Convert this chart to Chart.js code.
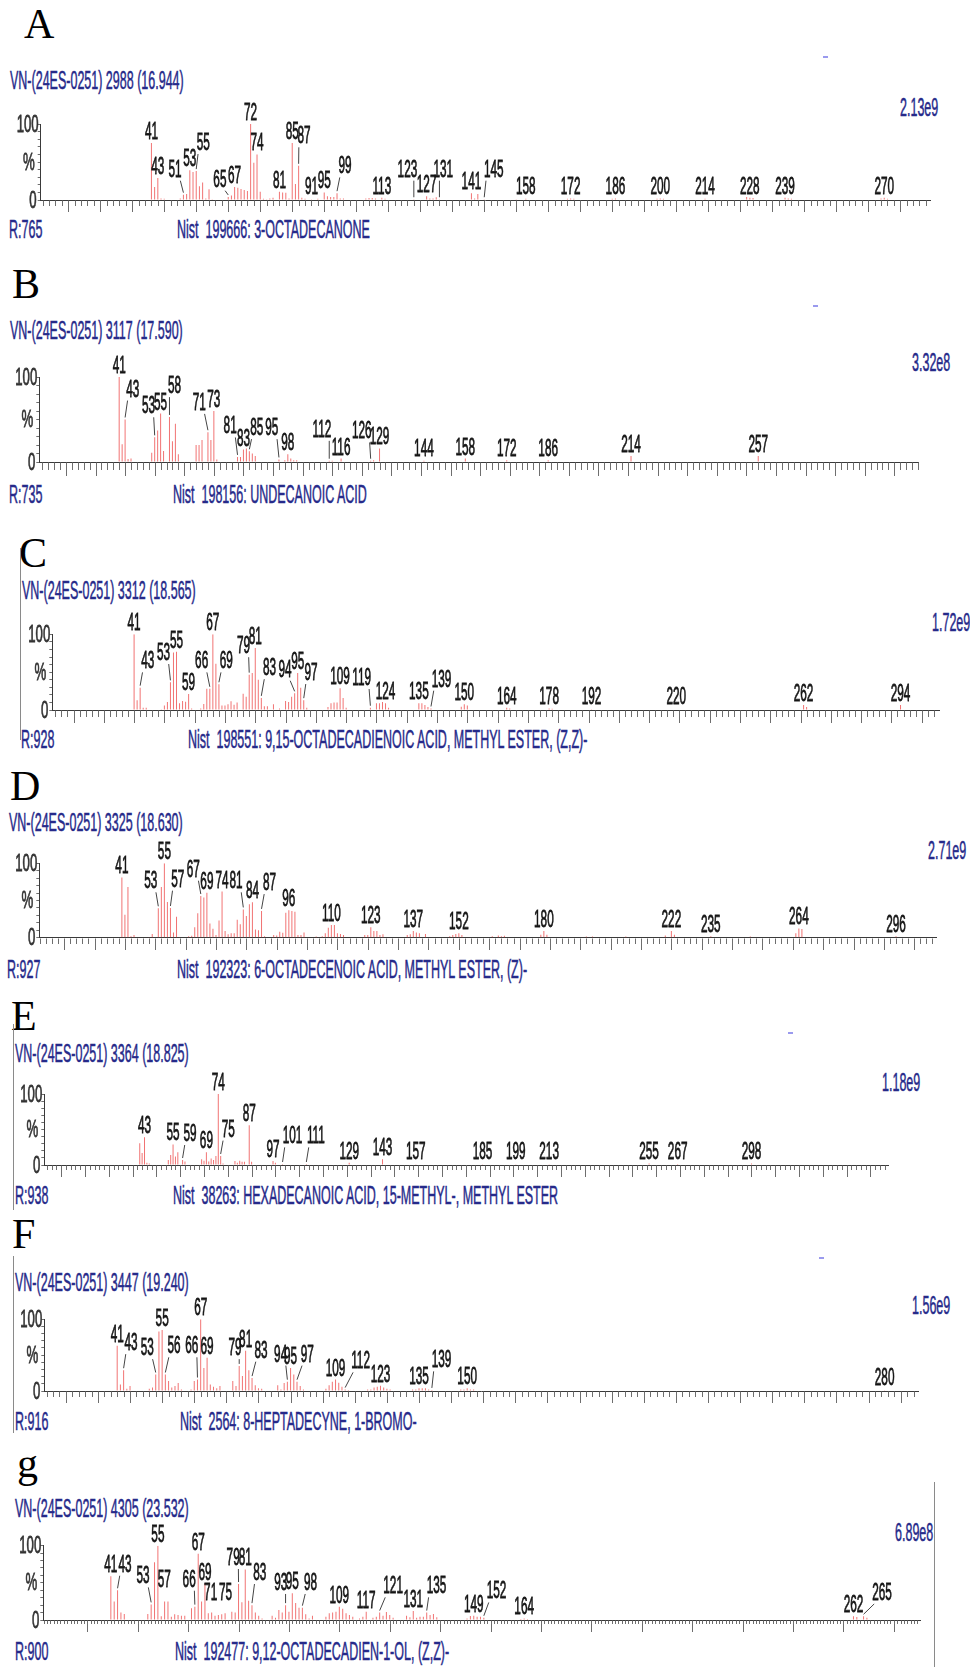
<!DOCTYPE html>
<html><head><meta charset="utf-8">
<script src="https://cdn.jsdelivr.net/npm/chart.js@4.4.1/dist/chart.umd.min.js"></script>
<style>
html,body{margin:0;padding:0;background:#fff;}
body{width:970px;height:1667px;position:relative;overflow:hidden;}
canvas{position:absolute;left:0;}
.t{position:absolute;font-family:"Liberation Sans",Arial,sans-serif;font-size:25px;line-height:25px;color:#262a8a;-webkit-text-stroke:0.5px #262a8a;white-space:pre;transform-origin:0 50%;transform:scaleX(0.5);}
.L{position:absolute;font-family:"Liberation Serif","Times New Roman",serif;font-size:42px;line-height:42px;color:#000;}
.dash{position:absolute;width:5px;height:2px;background:#9a9aee;}
.frame{position:absolute;width:1px;background:#8a8a8a;}
</style></head><body>

<div class="L" style="left:24px;top:3px">A</div>
<div class="t" style="left:10px;top:68px">VN-(24ES-0251) 2988 (16.944)</div>
<div class="t" style="left:900px;top:95px">2.13e9</div>
<div class="dash" style="left:823px;top:56px"></div>
<div class="t" style="left:9px;top:217px">R:765</div>
<div class="t" style="left:177px;top:217px">Nist  199666: 3-OCTADECANONE</div>

<div class="L" style="left:12px;top:263px">B</div>
<div class="t" style="left:10px;top:318px">VN-(24ES-0251) 3117 (17.590)</div>
<div class="t" style="left:912px;top:350px">3.32e8</div>
<div class="dash" style="left:813px;top:305px"></div>
<div class="t" style="left:9px;top:482px">R:735</div>
<div class="t" style="left:173px;top:482px">Nist  198156: UNDECANOIC ACID</div>

<div class="L" style="left:19px;top:532px">C</div>
<div class="frame" style="left:20px;top:548px;height:192px"></div>
<div class="t" style="left:22px;top:578px">VN-(24ES-0251) 3312 (18.565)</div>
<div class="t" style="left:932px;top:610px">1.72e9</div>
<div class="t" style="left:21px;top:727px">R:928</div>
<div class="t" style="left:188px;top:727px">Nist  198551: 9,15-OCTADECADIENOIC ACID, METHYL ESTER, (Z,Z)-</div>

<div class="L" style="left:10px;top:765px">D</div>
<div class="t" style="left:9px;top:810px">VN-(24ES-0251) 3325 (18.630)</div>
<div class="t" style="left:928px;top:838px">2.71e9</div>
<div class="t" style="left:7px;top:957px">R:927</div>
<div class="t" style="left:177px;top:957px">Nist  192323: 6-OCTADECENOIC ACID, METHYL ESTER, (Z)-</div>

<div class="L" style="left:11px;top:995px">E</div>
<div class="frame" style="left:13px;top:1024px;height:186px"></div>
<div class="t" style="left:15px;top:1041px">VN-(24ES-0251) 3364 (18.825)</div>
<div class="t" style="left:882px;top:1070px">1.18e9</div>
<div class="dash" style="left:788px;top:1032px"></div>
<div class="t" style="left:15px;top:1183px">R:938</div>
<div class="t" style="left:173px;top:1183px">Nist  38263: HEXADECANOIC ACID, 15-METHYL-, METHYL ESTER</div>

<div class="L" style="left:12px;top:1213px">F</div>
<div class="frame" style="left:13px;top:1256px;height:177px"></div>
<div class="t" style="left:15px;top:1270px">VN-(24ES-0251) 3447 (19.240)</div>
<div class="t" style="left:912px;top:1293px">1.56e9</div>
<div class="dash" style="left:819px;top:1257px"></div>
<div class="t" style="left:15px;top:1409px">R:916</div>
<div class="t" style="left:180px;top:1409px">Nist  2564: 8-HEPTADECYNE, 1-BROMO-</div>

<div class="L" style="left:17px;top:1442px">g</div>
<div class="frame" style="left:934px;top:1482px;height:185px"></div>
<div class="t" style="left:15px;top:1496px">VN-(24ES-0251) 4305 (23.532)</div>
<div class="t" style="left:895px;top:1520px">6.89e8</div>
<div class="t" style="left:15px;top:1639px">R:900</div>
<div class="t" style="left:175px;top:1639px">Nist  192477: 9,12-OCTADECADIEN-1-OL, (Z,Z)-</div>

<canvas id="cA"></canvas><canvas id="cB"></canvas><canvas id="cC"></canvas><canvas id="cD"></canvas>
<canvas id="cE"></canvas><canvas id="cF"></canvas><canvas id="cG"></canvas>

<script>
// ---------- DATA: [m/z, relative intensity %] ----------
const peaksA = [[41,75],[42,17],[43,29],[44,2],[45,1.5],[50,2],[51,7],[52,8],[53,39],[54,37],[55,38],[56,18],[57,23],[58,2],[59,14],[60,1],[65,4],[66,6],[67,17],[68,16],[69,14.5],[70,13],[71,12],[72,100],[73,49],[74,60],[75,11],[76,1.5],[77,1],[78,2],[79,3],[81,11],[82,10],[83,9.5],[84,2],[85,75],[86,21],[87,45],[88,3],[89,1.5],[91,1],[93,1.5],[95,10],[96,5],[97,4],[98,4],[99,9],[100,2],[101,2],[108,2],[109,2.5],[110,2.5],[111,2],[113,3],[114,1.5],[123,1],[127,5],[128,2],[129,2],[130,3.5],[131,1],[141,9],[142,2],[143,8],[145,1],[155,1],[158,1.5],[171,1.5],[172,2],[173,1.5],[185,1.5],[186,2],[199,1.5],[200,2],[201,1.5],[214,1.5],[227,4],[228,3],[229,2.5],[239,3],[240,2],[241,1.5],[269,2],[270,3],[271,1.5]];
const labelsA = [41,43,53,67,72,74,81,85,91,95,113,127,141,158,172,186,200,214,228,239,270];
const leadersA = [[51,48.4,30.7],[55,57.2,65.8],[65,62.4,17.5],[87,88.7,74.6],[99,101.5,35],[123,121,30.7],[131,132.2,30.7],[145,148,30.7]];

const peaksB = [[41,100],[42,21],[43,50],[44,3.5],[45,4],[52,11],[53,29],[54,37],[55,57],[56,13],[58,53],[59,24.5],[60,45],[61,9],[67,20],[68,20],[69,26],[71,35],[72,26],[73,60],[74,3],[81,6],[82,6],[83,14.6],[84,16],[85,12.6],[86,10],[87,7],[95,3],[97,2],[98,9],[99,4],[100,2],[101,2],[112,1.5],[113,1.5],[116,4],[126,1.5],[127,2],[129,16],[144,1.5],[158,4],[172,2],[186,2],[214,7],[257,7]];
const labelsB = [41,55,73,83,98,116,129,144,158,172,186,214,257];
const leadersB = [[43,45.6,77],[53,50.9,57.3],[58,59.7,81],[71,68.1,61.3],[81,78.5,33.6],[85,87.5,31.6],[95,92.6,31.6],[112,109.5,29.6],[126,123,27.7]];

const peaksC = [[41,100],[42,13],[43,29.5],[44,3],[45,3],[50,1],[51,6],[52,10.5],[53,36.5],[54,76],[55,77],[56,9],[57,12],[58,11],[59,21],[60,2],[63,2],[64,8],[65,28],[66,28],[67,100],[68,61],[69,34],[70,6],[71,6],[72,7.5],[73,11.5],[74,7],[75,10],[77,21.5],[78,17.6],[79,46.7],[80,49],[81,82],[82,40],[83,16],[84,5],[85,5],[87,7.5],[89,2],[91,12],[92,10.5],[93,17.6],[94,22],[95,49],[96,29.5],[97,13],[98,3],[105,4],[106,9],[107,10],[108,10],[109,28.6],[110,16],[111,3],[119,3],[121,9],[122,9],[123,10.5],[124,9],[125,3],[135,9],[136,9],[137,6.6],[138,4],[139,2],[149,4.4],[150,7.5],[151,6],[164,3],[165,2],[178,2],[179,1.5],[192,1],[220,0.8],[262,6.6],[263,4],[294,6.6]];
const labelsC = [41,55,59,67,81,95,109,124,135,150,164,178,192,220,262,294];
const leadersC = [[43,45.5,55],[53,50.7,66],[66,63.3,55],[69,71.4,55],[79,77.1,75],[83,85.7,46],[94,90.8,44],[97,99.4,39.6],[119,116.1,33],[139,142.5,30.8]];

const peaksD = [[41,81],[42,31],[43,68],[44,2],[45,3.6],[50,1],[51,5],[53,39.5],[54,68],[55,100],[56,48],[57,40],[58,7],[59,28],[60,1],[63,2],[64,2.7],[65,14],[66,33],[67,56],[68,54],[69,60.5],[70,19],[71,12],[72,3.6],[73,23],[74,62],[75,9],[76,4.5],[77,6],[78,6],[79,24],[80,18],[81,38],[82,29],[83,45],[84,47.5],[85,11],[86,10],[87,36],[88,2],[91,3.6],[92,3],[93,8],[94,6.7],[95,33.6],[96,37],[97,36],[98,35],[99,3.6],[100,3.6],[101,7],[105,1.5],[107,2],[108,6],[109,13.5],[110,17],[111,17],[112,6],[113,5],[114,3.6],[121,3.6],[122,3.6],[123,14],[124,9],[125,9],[126,3.6],[127,4.5],[135,3.6],[136,4.5],[137,9],[138,7],[139,6],[141,5],[149,2],[150,3.6],[151,5],[152,6],[153,3.6],[163,2],[165,3],[166,2],[167,2.5],[179,4],[180,9],[181,4],[194,1.5],[196,1.5],[207,1.5],[220,3],[222,9],[223,4],[235,2],[248,1.5],[263,6],[264,12.5],[265,11.6],[296,2]];
const labelsD = [41,55,69,74,84,96,110,123,137,152,180,222,235,264,296];
const leadersD = [[53,50.5,66.4],[57,59.4,68.6],[67,64.5,82],[81,78.6,66.4],[87,89.6,64]];

const peaksE = [[41,30.5],[42,17],[43,39],[44,3],[45,2],[53,7],[54,14],[55,29],[56,12],[57,18],[59,7],[60,5],[67,8],[68,6],[69,18],[70,5],[71,9],[72,7],[73,12.7],[74,100],[75,12.7],[76,2],[81,5.6],[82,3],[83,6],[84,4.7],[85,4.7],[87,56],[88,4.7],[97,5.6],[98,3.3],[101,1.4],[111,1.4],[129,3.3],[143,8],[157,1],[185,1],[199,1],[213,1],[255,2],[267,1.5],[298,2]];
const labelsE = [43,55,69,74,87,97,129,143,157,185,199,213,255,267,298];
const leadersE = [[59,62.1,33.8],[75,78.2,40],[101,105.2,30.5],[111,115,30.5]];

const peaksF = [[41,63],[42,9],[43,29],[44,3],[45,7],[51,3],[52,5],[53,23],[54,83],[55,85],[56,23],[57,14],[58,5],[59,7],[60,11],[61,2],[64,2],[65,14],[66,16],[67,100],[68,32],[69,46.5],[70,9],[71,6],[72,4],[73,7],[77,14],[78,7],[79,35],[80,21],[81,56],[82,29],[83,18],[84,8],[85,4],[86,3],[91,8],[92,2],[93,11],[94,13],[95,32],[96,23],[97,13],[98,7],[99,2],[106,3],[107,8],[108,13],[109,16],[110,11.6],[111,6],[112,2],[113,1.5],[119,2],[120,2],[121,5],[122,6],[123,7.4],[124,5],[125,3],[126,2],[133,2],[134,2],[135,3.7],[136,3.7],[137,3.7],[138,2],[139,1.5],[148,2],[149,2],[150,3.7],[151,2],[152,2],[280,1]];
const labelsF = [41,55,67,69,81,95,109,123,135,150,280];
const leadersF = [[43,45.3,57],[53,50.4,50],[56,58.7,52.6],[66,64.2,52.6],[79,77.7,50],[83,85.8,46.5],[94,91.9,41],[97,100.2,41],[112,116.8,31.6],[139,142,33]];

const peaksG = [[41,59],[42,25],[43,40],[44,10],[45,8],[52,8],[53,21],[54,77.6],[55,100],[56,5],[57,25],[58,25],[59,4.5],[60,7.6],[61,6.7],[62,5.8],[63,5.8],[65,15.7],[66,18],[67,89],[68,25],[69,49],[70,9],[71,10],[72,5.8],[73,6.7],[74,7.6],[75,9],[77,11],[78,10],[79,48.4],[80,24],[81,68],[82,26],[83,20],[84,10],[85,5.8],[86,2],[89,5.8],[90,3],[91,13.5],[92,10],[93,20],[94,11],[95,36],[96,23],[97,16.6],[98,16.6],[99,7.6],[100,2],[101,5.8],[105,4.5],[106,9],[107,10],[108,11],[109,18],[110,15],[111,9],[112,6.7],[113,4.5],[115,2],[116,4.5],[117,11],[119,3],[120,4.5],[121,10],[122,5.8],[123,10.8],[124,6.7],[125,3],[129,5.8],[130,3.6],[131,12],[132,3],[133,4.5],[134,4.5],[135,10],[136,6.7],[137,8],[138,3.6],[147,2],[148,5.4],[149,5.8],[150,4.5],[151,4.5],[152,3],[163,1.5],[164,2],[165,1.5],[262,5],[263,4],[265,5],[266,3]];
const labelsG = [41,55,67,69,81,95,109,117,131,149,164,262];
const leadersG = [[43,45.2,65],[53,50.6,49.3],[57,56.9,44.8,false],[66,64.3,44.8],[71,70.7,27,false],[75,75.1,27,false],[79,77.4,74],[83,85.3,53.8],[93,91.6,40.4],[98,100.4,40.4],[121,125,35.9],[135,137.9,35.9],[152,155.8,29],[265,270.5,27]];

// ---------- axis ranges (m/z) and tick spacing ----------
const axisA = {xMin:6.4, xMax:284.3, minorStart:7, minorStep:2, majorStart:15, majorStep:10};
const axisB = {xMin:14, xMax:311, minorStart:15, minorStep:2, majorStart:13, majorStep:10};
const axisC = {xMin:14, xMax:306.7, minorStart:15, minorStep:2, majorStart:21, majorStep:10};
const axisD = {xMin:13.8, xMax:309.4, minorStart:14, minorStep:2, majorStart:22, majorStep:10};
const axisE = {xMin:0.9, xMax:355.5, minorStart:2, minorStep:2, majorStart:8, majorStep:10};
const axisF = {xMin:18.3, xMax:290.4, minorStart:19, minorStep:2, majorStart:25, majorStep:10};
const axisG = {xMin:20.9, xMax:281.8, minorStart:21, minorStep:1, majorStart:34, majorStep:15};

// ---------- layout (page pixels) ----------
const layout = {
  A:{left:40.7, right:930, top:124, base:200, minLen:6, majLen:12},
  B:{left:39.3, right:918, top:377, base:462, minLen:8, majLen:14},
  C:{left:52.3, right:939, top:634.3, base:710, minLen:7, majLen:13},
  D:{left:39.3, right:936.7, top:863.3, base:937.7, minLen:6, majLen:12},
  E:{left:44.3, right:888.3, top:1094, base:1165, minLen:5, majLen:12},
  F:{left:44.3, right:918, top:1319.3, base:1391, minLen:6, majLen:12},
  G:{left:43.3, right:920, top:1545.7, base:1620, minLen:4, majLen:12}
};

const BAR = 'rgba(238,80,80,0.8)';
const FONT = '"Liberation Sans", Arial, sans-serif';

function sqText(ctx, s, x, y, align, baseline, size, k, color) {
  ctx.save();
  ctx.translate(x, y);
  ctx.scale(k, 1);
  ctx.font = size + 'px ' + FONT;
  ctx.textAlign = align;
  ctx.textBaseline = baseline;
  ctx.fillStyle = color;
  ctx.strokeStyle = color;
  ctx.lineWidth = 0.8;
  ctx.fillText(s, 0, 0);
  ctx.strokeText(s, 0, 0);
  ctx.restore();
}

function specPlugin(name, ax, lay, peaks, labels, leaders) {
  const pmap = new Map(peaks);
  return {
    id: 'spec' + name,
    afterDraw(chart) {
      const ctx = chart.ctx, xs = chart.scales.x, ys = chart.scales.y;
      const base = ys.getPixelForValue(0);
      const left = xs.left;
      ctx.save();
      // x-axis tick marks
      ctx.strokeStyle = '#6e6e6e';
      ctx.lineWidth = 1;
      ctx.beginPath();
      for (let i = 0; ; i++) {
        const v = ax.minorStart + i * ax.minorStep;
        if (v > ax.xMax + 1e-6) break;
        const px = Math.round(xs.getPixelForValue(v)) + 0.5;
        const m = (v - ax.majorStart) / ax.majorStep;
        const major = Math.abs(m - Math.round(m)) < 1e-6;
        ctx.moveTo(px, Math.round(base) + 0.5);
        ctx.lineTo(px, Math.round(base) + (major ? lay.majLen : lay.minLen));
      }
      ctx.stroke();
      // y-axis labels
      sqText(ctx, '100', left - 2, ys.getPixelForValue(100) + 1, 'right', 'middle', 24, 0.55, '#333');
      sqText(ctx, '%', left - 6, ys.getPixelForValue(50) + 1, 'right', 'middle', 24, 0.55, '#333');
      sqText(ctx, '0', left - 4, base + 1, 'right', 'middle', 24, 0.55, '#333');
      // peak labels
      const K = 0.49, SZ = 24;
      const draw = (mz, lx, lpct, leader) => {
        const bx = xs.getPixelForValue(mz);
        const by = ys.getPixelForValue(pmap.get(mz) || 0);
        let cx, bottom;
        if (lx === undefined) { cx = bx; bottom = Math.min(by, base - 2) - 4; }
        else { cx = xs.getPixelForValue(lx); bottom = ys.getPixelForValue(lpct); }
        sqText(ctx, String(mz), cx, bottom, 'center', 'alphabetic', SZ, K, '#151515');
        if (lx !== undefined && leader !== false) {
          ctx.font = SZ + 'px ' + FONT;
          const hw = ctx.measureText(String(mz)).width * K / 2;
          const sx = cx + Math.max(-hw * 0.8, Math.min(hw * 0.8, bx - cx));
          ctx.strokeStyle = '#444';
          ctx.lineWidth = 1;
          ctx.beginPath();
          ctx.moveTo(sx, bottom + 4);
          ctx.lineTo(bx, by - 2);
          ctx.stroke();
        }
      };
      labels.forEach(m => draw(m));
      leaders.forEach(l => draw(l[0], l[1], l[2], l[3]));
      ctx.restore();
    }
  };
}

function makeChart(id, name, ax, peaks, labels, leaders) {
  const lay = layout[name];
  const cv = document.getElementById(id);
  const T = Math.floor(lay.top - 40);
  const H = Math.ceil(lay.base - T + 22);
  cv.style.top = T + 'px';
  cv.width = 970; cv.height = H;
  cv.style.width = '970px'; cv.style.height = H + 'px';
  new Chart(cv, {
    type: 'bar',
    data: { datasets: [{
      data: peaks.map(p => ({x: p[0], y: p[1]})),
      backgroundColor: BAR, borderWidth: 0, barThickness: 1, inflateAmount: 0
    }]},
    options: {
      responsive: false, animation: false, events: [],
      layout: { padding: { left: lay.left - 6, right: 970 - lay.right, top: lay.top - T, bottom: (T + H) - lay.base - 14 } },
      plugins: { legend: {display: false}, tooltip: {enabled: false} },
      scales: {
        x: { type: 'linear', min: ax.xMin, max: ax.xMax, offset: false,
             grid: {display: false, offset: false}, ticks: {display: false},
             border: {display: true, color: '#3a3a3a', width: 1},
             afterFit: s => { s.height = 14; } },
        y: { type: 'linear', min: 0, max: 100,
             ticks: {display: false, stepSize: 10},
             grid: {drawOnChartArea: false, tickLength: 3, color: '#6e6e6e'},
             border: {display: true, color: '#3a3a3a', width: 1},
             afterFit: s => { s.width = 6; } }
      }
    },
    plugins: [specPlugin(name, ax, lay, peaks, labels, leaders)]
  });
}

makeChart('cA', 'A', axisA, peaksA, labelsA, leadersA);
makeChart('cB', 'B', axisB, peaksB, labelsB, leadersB);
makeChart('cC', 'C', axisC, peaksC, labelsC, leadersC);
makeChart('cD', 'D', axisD, peaksD, labelsD, leadersD);
makeChart('cE', 'E', axisE, peaksE, labelsE, leadersE);
makeChart('cF', 'F', axisF, peaksF, labelsF, leadersF);
makeChart('cG', 'G', axisG, peaksG, labelsG, leadersG);
</script>
</body></html>
